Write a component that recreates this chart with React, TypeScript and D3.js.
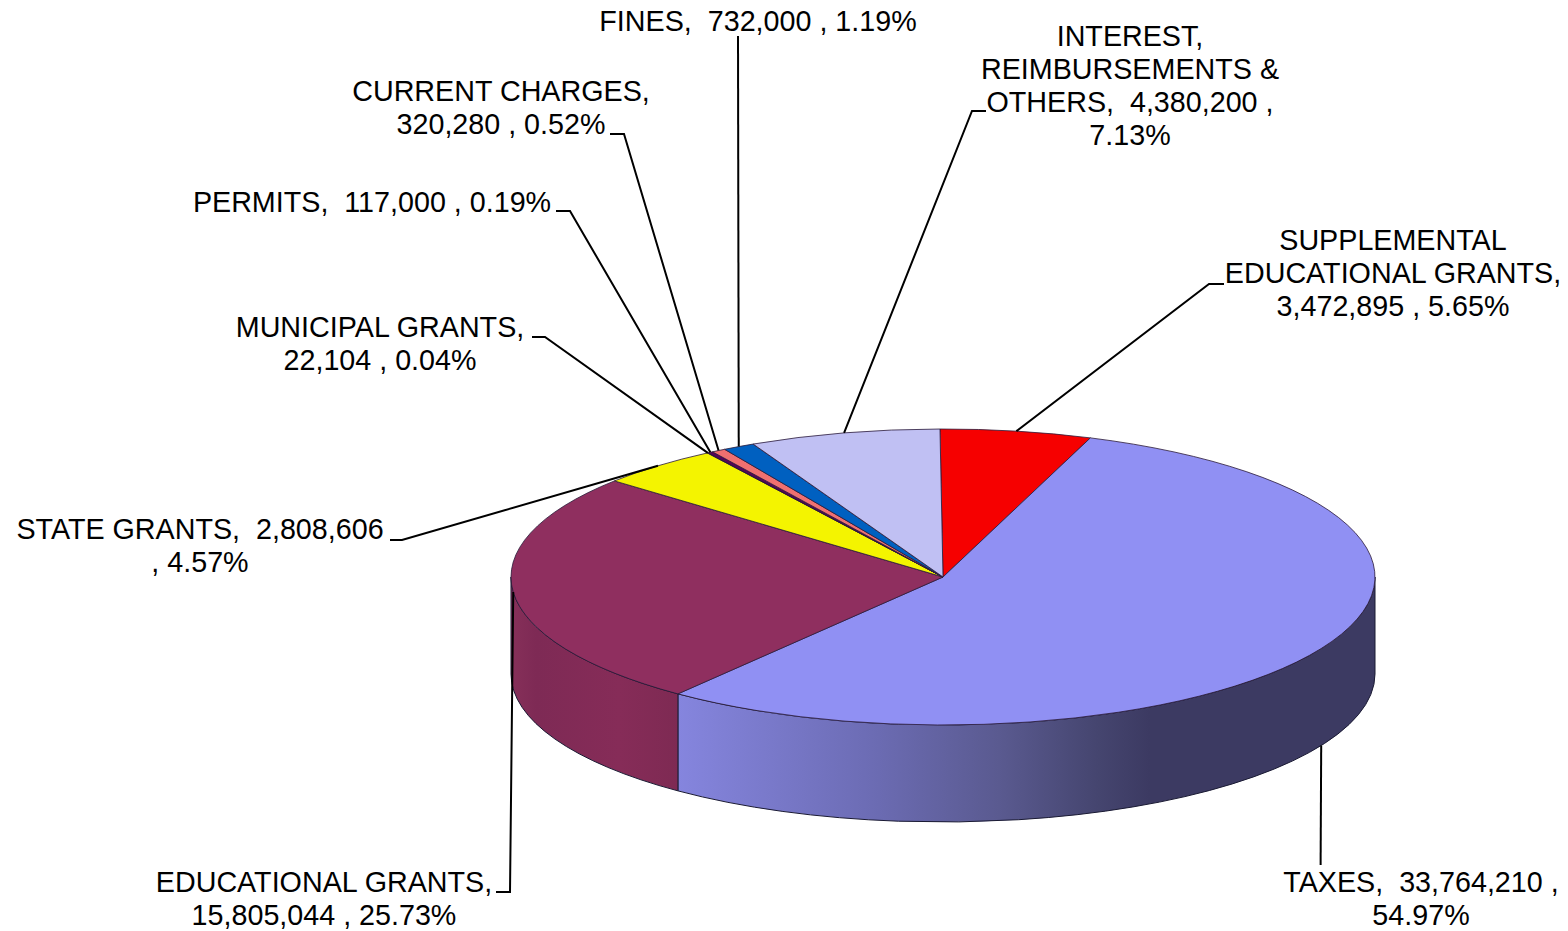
import React from "react";
import * as d3 from "d3";

const categories = ["SUPPLEMENTAL EDUCATIONAL GRANTS", "TAXES", "EDUCATIONAL GRANTS", "STATE GRANTS", "MUNICIPAL GRANTS", "PERMITS", "CURRENT CHARGES", "FINES", "INTEREST, REIMBURSEMENTS & OTHERS"];
const values = [3472895, 33764210, 15805044, 2808606, 22104, 117000, 320280, 732000, 4380200];
const colors = ["#f60000", "#9090f3", "#8f2f5f", "#f4f400", "#5a005a", "#5a005a", "#f07070", "#0060c0", "#c0c0f3"];
const labelLines = [
  ["SUPPLEMENTAL", "EDUCATIONAL GRANTS,", "3,472,895 , 5.65%"],
  ["TAXES,  33,764,210 ,", "54.97%"],
  ["EDUCATIONAL GRANTS,", "15,805,044 , 25.73%"],
  ["STATE GRANTS,  2,808,606", ", 4.57%"],
  ["MUNICIPAL GRANTS,", "22,104 , 0.04%"],
  ["PERMITS,  117,000 , 0.19%"],
  ["CURRENT CHARGES,", "320,280 , 0.52%"],
  ["FINES,  732,000 , 1.19%"],
  ["INTEREST,", "REIMBURSEMENTS &", "OTHERS,  4,380,200 ,", "7.13%"],
];
const labelCenters = [[1393, 250], [1421, 892], [324, 892], [200, 539], [380, 336.5], [372, 211.5], [501, 100.5], [758, 31], [1130, 45.5]];
const leaderStops = [
  [[1224, 284], [1209, 284]],
  [[1320.6, 865]],
  [[496, 892], [510, 892]],
  [[390, 540], [402, 540]],
  [[532, 337], [545, 337]],
  [[556, 211], [570, 211]],
  [[610, 134], [624, 134]],
  [[738, 36]],
  [[986, 111], [972, 111]],
];
const sideStops = [
  [0, "#8585de"], [0.41, "#6c6cb4"], [0.68, "#5a5a90"], [0.89, "#45456f"], [1, "#3c3a62"],
];

const cx = 943, cy = 577, rx = 432, ry = 148, depth = 97;
const startDeg = -0.4;
const startA = (startDeg * Math.PI) / 180;

const pt = (a: number, dy = 0): [number, number] => [cx + rx * Math.sin(a), cy - ry * Math.cos(a) + dy];
const ellArc = (a0: number, a1: number, dy = 0) => {
  const [x, y] = pt(a1, dy);
  const large = Math.abs(a1 - a0) > Math.PI ? 1 : 0;
  return `A${rx},${ry} 0 ${large} ${a1 > a0 ? 1 : 0} ${x},${y}`;
};

export default function App() {
  const arcs = d3.pie<number>().sort(null).startAngle(startA).endAngle(startA + 2 * Math.PI)(values);
  const lineGen = d3.line();
  const gx = d3.scaleLinear().domain([0, 1]).range([678, 1150]);
  const sides = arcs
    .map((d, i) => {
      const a0 = Math.max(d.startAngle, Math.PI / 2);
      const a1 = Math.min(d.endAngle, (3 * Math.PI) / 2);
      if (a1 <= a0) return null;
      const [x0, y0] = pt(a0);
      const [x1, y1] = pt(a1, depth);
      const path = `M${x0},${y0}${ellArc(a0, a1)}L${x1},${y1}${ellArc(a1, a0, depth)}Z`;
      return { i, path };
    })
    .filter(Boolean) as { i: number; path: string }[];
  const sideFill = ["", "url(#taxSide)", "url(#eduSide)"];

  return (
    <svg width={1568} height={931} style={{ position: "absolute", left: 0, top: 0, background: "#fff" }} fontFamily="'Liberation Sans', Arial, sans-serif" fontSize={28.7}>
      <defs>
        <linearGradient id="taxSide" gradientUnits="userSpaceOnUse" x1={gx(0)} x2={gx(1)} y1={0} y2={0}>
          {sideStops.map(([o, c]) => (
            <stop key={o as number} offset={o as number} stopColor={c as string} />
          ))}
        </linearGradient>
        <linearGradient id="eduSide" gradientUnits="userSpaceOnUse" x1={511} x2={678} y1={0} y2={0}>
          <stop offset={0} stopColor="#863059" />
          <stop offset={0.15} stopColor="#7e2a55" />
          <stop offset={0.65} stopColor="#862c58" />
          <stop offset={1} stopColor="#7e2a53" />
        </linearGradient>
      </defs>
      {sides.map((s) => (
        <path key={s.i} d={s.path} fill={sideFill[s.i]} stroke="#1a1a33" strokeWidth={1} strokeLinejoin="round" />
      ))}
      {arcs.map((d, i) => {
        const [x0, y0] = pt(d.startAngle);
        return (
          <path key={i} d={`M${cx},${cy}L${x0},${y0}${ellArc(d.startAngle, d.endAngle)}Z`} fill={colors[i]} stroke="#2a1a3a" strokeOpacity={0.8} strokeWidth={1} strokeLinejoin="round">
            <title>{categories[i]}</title>
          </path>
        );
      })}
      {arcs.map((d, i) => {
        const mid = (d.startAngle + d.endAngle) / 2;
        const front = Math.cos(mid) < 0 && Math.abs(Math.sin(mid)) < 0.95;
        const end = pt(mid, front ? depth : 0);
        const pts = [...leaderStops[i], end] as [number, number][];
        return <path key={i} d={lineGen(pts) as string} fill="none" stroke="#000" strokeWidth={2} />;
      })}
      {labelLines.map((lines, i) => (
        <text key={i} textAnchor="middle" fill="#000" style={{ whiteSpace: "pre" }}>
          {lines.map((l, j) => (
            <tspan key={j} x={labelCenters[i][0]} y={labelCenters[i][1] + j * 33}>
              {l}
            </tspan>
          ))}
        </text>
      ))}
    </svg>
  );
}
